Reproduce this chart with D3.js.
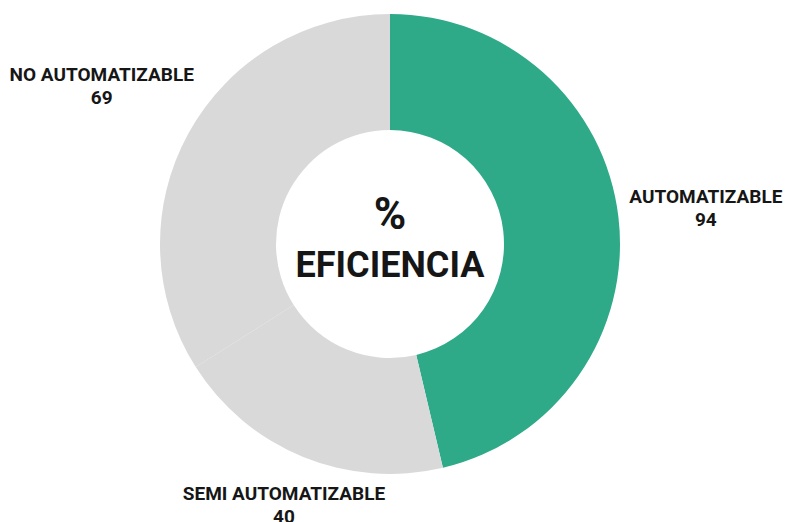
<!DOCTYPE html>
<html>
<head>
<meta charset="utf-8">
<script src="https://cdn.jsdelivr.net/npm/d3@7"></script>
<style>
  body { margin: 0; background: #fff; }
  text { font-family: Roboto, "Noto Sans", sans-serif; font-weight: 700; fill: #161616; }
</style>
</head>
<body>
<script>
var categories = ["AUTOMATIZABLE", "SEMI AUTOMATIZABLE", "NO AUTOMATIZABLE"];
var values = [94, 40, 69];
var colors = ["#2eaa89", "#d9d9d9", "#d9d9d9"];
var centerLines = ["%", "EFICIENCIA"];

var width = 785, height = 522;
var cx = 390, cy = 244;
var outerR = 230, innerR = 114;
// how far out each label sits (text middle)
var labelR = [318, 281, 329];

var data = categories.map(function(c, i) { return { name: c, value: values[i], color: colors[i], lr: labelR[i] }; });

var svg = d3.select("body").append("svg")
  .attr("width", width)
  .attr("height", height);

var g = svg.append("g").attr("transform", "translate(" + cx + "," + cy + ")");

var pie = d3.pie().sort(null).value(function(d) { return d.value; });
var arc = d3.arc().innerRadius(innerR).outerRadius(outerR);

var arcs = pie(data);

g.selectAll("path.slice")
  .data(arcs)
  .enter().append("path")
  .attr("class", "slice")
  .attr("d", arc)
  .attr("fill", function(d) { return d.data.color; });

var lab = g.selectAll("g.lab")
  .data(arcs)
  .enter().append("g")
  .attr("class", "lab")
  .attr("transform", function(d) {
    var a = (d.startAngle + d.endAngle) / 2;
    var r = d.data.lr;
    return "translate(" + (Math.sin(a) * r) + "," + (-Math.cos(a) * r) + ")";
  });

lab.append("text")
  .attr("text-anchor", "middle")
  .attr("y", -4)
  .style("font-size", "19px")
  .text(function(d) { return d.data.name; });

lab.append("text")
  .attr("text-anchor", "middle")
  .attr("y", 18.5)
  .style("font-size", "19px")
  .text(function(d) { return d.data.value; });

g.selectAll("text.center")
  .data(centerLines)
  .enter().append("text")
  .attr("class", "center")
  .attr("text-anchor", "middle")
  .attr("y", function(d, i) { return i === 0 ? -15 : 33; })
  .style("font-size", function(d, i) { return i === 0 ? "44px" : "36px"; })
  .text(function(d) { return d; });
</script>
</body>
</html>
